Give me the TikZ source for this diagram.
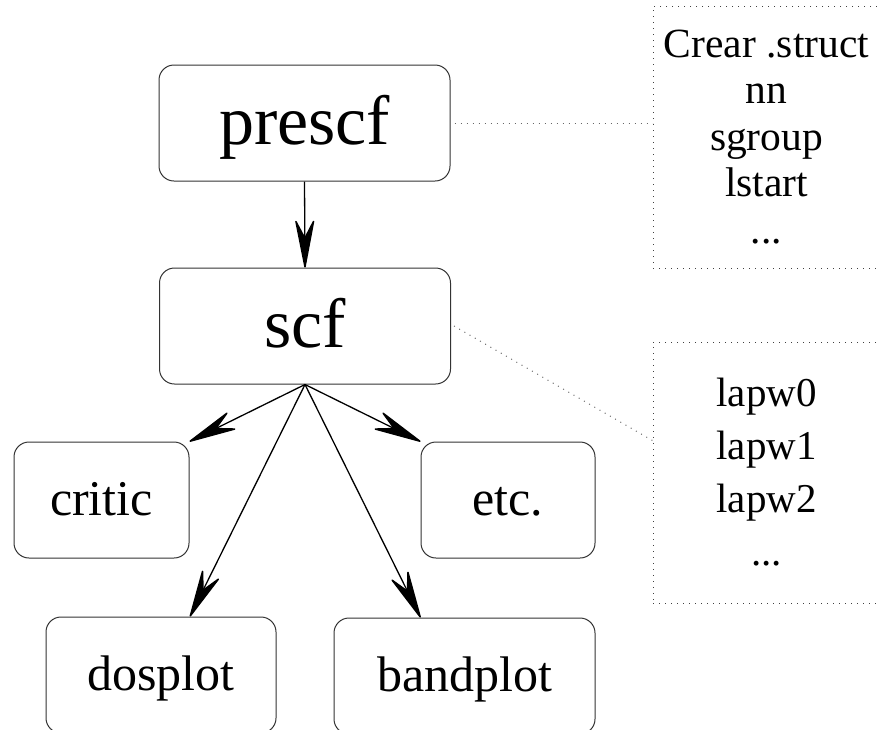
\documentclass[tikz,border=0pt]{standalone}
\usepackage{fontspec}
\setmainfont{Liberation Serif}
\usetikzlibrary{arrows.meta}
\tikzset{
	prog/.style={draw=black!80, line width=1pt, rounded corners=15pt, minimum height=116pt, inner sep=0pt},
	bigprog/.style={prog, font=\fontsize{70}{84}\selectfont, minimum width=291pt, text height=56pt, text depth=14pt},
	smallprog/.style={prog, font=\fontsize{50}{60}\selectfont, text height=40pt, text depth=10pt},
	infobox/.style={draw=black!75, line width=1pt, dash pattern=on 1pt off 5pt, minimum width=227pt, inner sep=0pt, align=center},
	link/.style={-{Stealth[length=54pt 0, width=21pt 0, inset=20pt 0, line width=1.5pt, round]}, line width=1.3pt},
	hint/.style={draw=black!60, line width=1pt, dash pattern=on 1pt off 5pt}
}

\begin{document}
\begin{tikzpicture}[x=1pt, y=-1pt]
			%%%%% START %%%%%
			\useasboundingbox (0, 0) rectangle (877, 729);
			\clip (0, 0) rectangle (877, 729);
			
			\node[bigprog] (prescf) at (304.5, 123) {prescf};
			\node[bigprog] (scf) at (305, 326) {scf};
			
			\node[smallprog, minimum width=175pt] (critic) at (101.5, 500) {critic};
			\node[smallprog, minimum width=174pt] (etc) at (508, 500) {etc.};
			\node[smallprog, minimum width=230pt] (dosplot) at (161, 675) {dosplot};
			\node[smallprog, minimum width=261pt] (bandplot) at (464.5, 676) {bandplot};
			
			\node[infobox, minimum height=262pt, font=\fontsize{41.5}{46.5}\selectfont] (init) at (766.5, 137)
				{Crear .struct\\nn\\sgroup\\lstart\\...};
			\node[infobox, minimum height=261pt, font=\fontsize{41}{53}\selectfont] (cycle) at (766.5, 472.5)
				{lapw0\\lapw1\\lapw2\\...};
			
			\draw[link] (prescf.south) -- (scf.north);
			\draw[link] (scf.south) -- (critic.north east);
			\draw[link] (scf.south) -- ([xshift=29pt]dosplot.north);
			\draw[link] (scf.south) -- (etc.north west);
			\draw[link] (scf.south) -- ([xshift=-44pt]bandplot.north);
			
			\draw[hint] ([xshift=4pt]prescf.east) -- (prescf.east -| init.west);
			\draw[hint] ([xshift=3pt]scf.east) -- ([yshift=32pt]cycle.west);
			
			%%%%% END %%%%%
\end{tikzpicture}
\end{document}
